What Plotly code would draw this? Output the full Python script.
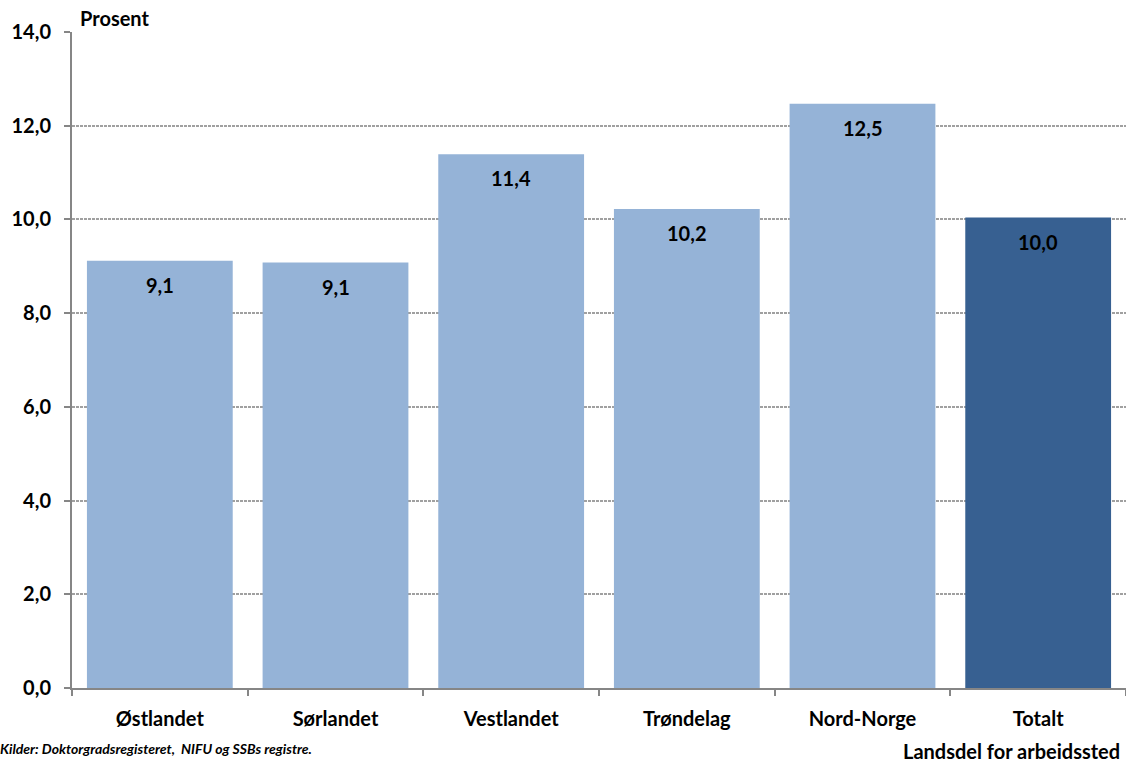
import plotly.graph_objects as go

categories = ["Østlandet", "Sørlandet", "Vestlandet", "Trøndelag", "Nord-Norge", "Totalt"]
values = [9.12, 9.08, 11.39, 10.22, 12.47, 10.04]
labels = ["9,1", "9,1", "11,4", "10,2", "12,5", "10,0"]
bar_colors = ["#95B3D7", "#95B3D7", "#95B3D7", "#95B3D7", "#95B3D7", "#376091"]
y_ticks = [0, 2, 4, 6, 8, 10, 12, 14]

FONT = "Lato"

fig = go.Figure()
fig.add_trace(go.Bar(
    x=categories, y=values,
    marker=dict(color=bar_colors, line=dict(width=0)),
    hoverinfo="skip",
))

for c, v, t in zip(categories, values, labels):
    fig.add_annotation(x=c, y=v, text=t, showarrow=False, yanchor="middle",
                       yshift=-24, font=dict(family=FONT, size=20, color="#000000"))

fig.add_annotation(xref="paper", yref="paper", x=0.0057, y=1.0, yanchor="middle", xanchor="left",
                   text="<b>Prosent</b>", showarrow=False, yshift=14,
                   font=dict(family=FONT, size=20, color="#000000"))
fig.add_annotation(xref="paper", yref="paper", x=0.9962, y=0.0, yanchor="middle", xanchor="right",
                   text="<b>Landsdel for arbeidssted</b>", showarrow=False, yshift=-63,
                   font=dict(family=FONT, size=20, color="#000000"))
fig.add_annotation(xref="paper", yref="paper", x=-0.0705, y=0.0, yanchor="middle", xanchor="left",
                   text="<b><i>Kilder: Doktorgradsregisteret,  NIFU og SSBs registre.</i></b>", showarrow=False,
                   yshift=-60, font=dict(family=FONT, size=14, color="#000000"))

fig.update_layout(
    width=1126, height=762,
    margin=dict(l=72, r=0, t=32, b=74),
    paper_bgcolor="white", plot_bgcolor="white",
    bargap=0.17,
    showlegend=False,
    separators=", ",
    font=dict(family=FONT, color="#000000"),
    xaxis=dict(
        type="category", showline=True, linecolor="#868686", linewidth=2,
        ticks="outside", tickson="boundaries", ticklen=6, tickcolor="#868686", tickwidth=2,
        tickfont=dict(family=FONT, size=20, color="#000000", weight="bold"),
        ticklabelstandoff=12,
        showgrid=False,
    ),
    yaxis=dict(
        range=[0, 14], tickvals=y_ticks, tickformat=".1f",
        showline=True, linecolor="#868686", linewidth=2,
        ticks="outside", ticklen=6, tickcolor="#868686", tickwidth=2,
        tickfont=dict(family=FONT, size=20, color="#000000", weight="bold"),
        ticklabelstandoff=9,
        showgrid=True, gridcolor="#A0A0A0", griddash="3px,1px", gridwidth=1.5,
        zeroline=False,
    ),
)
fig.update_annotations(font_weight="bold")

fig.write_html("out.html",
               config={"displayModeBar": False},
               post_script="document.body.style.margin='0';document.body.style.overflow='hidden';")
